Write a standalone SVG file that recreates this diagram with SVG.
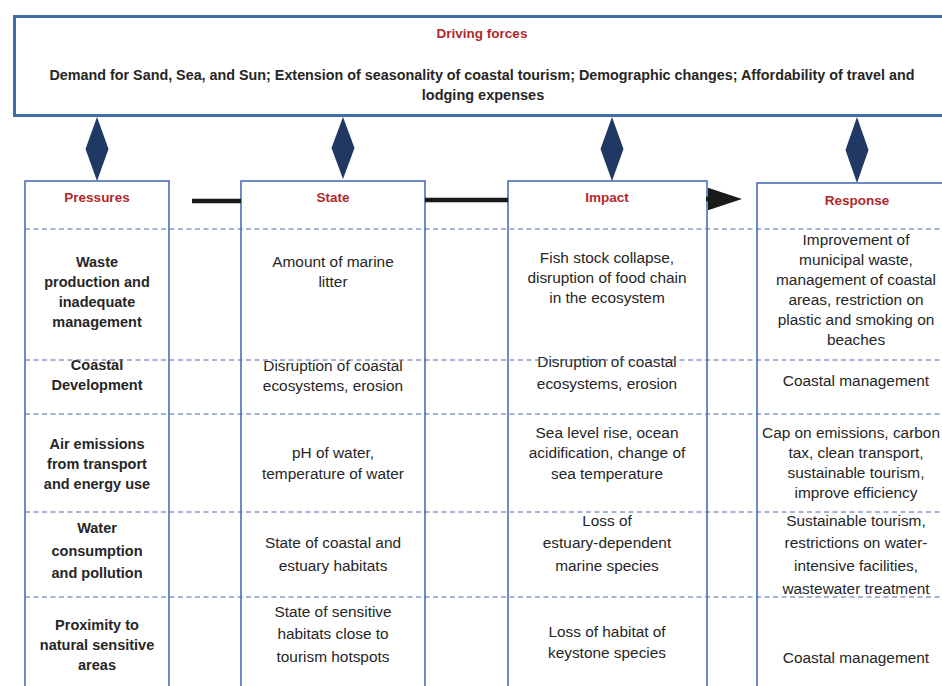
<svg xmlns="http://www.w3.org/2000/svg" width="942" height="686" viewBox="0 0 942 686">
<style>
text{font-family:"Liberation Sans",Arial,sans-serif;text-anchor:middle;fill:#262626;font-size:15.4px}
.h{fill:#b0282c;font-weight:bold;font-size:13.5px}
.b{font-weight:bold;font-size:14.5px}
.col{fill:#fff;stroke:#4a6fb8;stroke-width:1.6}
.dash{stroke:#4d6da3;stroke-width:1.2;stroke-dasharray:5 3.5;fill:none}
.dia{fill:#1f3864}
.con{stroke:#1a1a1a;stroke-width:4.5;fill:none}
</style>
<defs>
<marker id="ah" markerWidth="7.6" markerHeight="5" refX="0" refY="2.5" orient="auto" markerUnits="strokeWidth">
<path d="M0,0 L7.6,2.5 L0,5 Z" fill="#1a1a1a"/>
</marker>
</defs>
<rect width="942" height="686" fill="#fff"/>

<g id="driving-forces">
<rect x="14.5" y="16.5" width="940" height="99" fill="#fff" stroke="#3f6ea6" stroke-width="3"/>
<text class="h" x="482" y="38">Driving forces</text>
<text class="b" x="482" y="80" font-size="13.9" textLength="865" lengthAdjust="spacingAndGlyphs">Demand for Sand, Sea, and Sun; Extension of seasonality of coastal tourism; Demographic changes; Affordability of travel and</text>
<text class="b" x="483" y="100" font-size="13.9">lodging expenses</text>
</g>

<g id="pressures">
<rect class="col" x="25" y="181" width="144" height="520"/>
<text class="h" x="97" y="202">Pressures</text>
<text class="b" x="97" y="267">Waste</text>
<text class="b" x="97" y="287">production and</text>
<text class="b" x="97" y="307">inadequate</text>
<text class="b" x="97" y="327">management</text>
<text class="b" x="97" y="370">Coastal</text>
<text class="b" x="97" y="390">Development</text>
<text class="b" x="97" y="449">Air emissions</text>
<text class="b" x="97" y="469">from transport</text>
<text class="b" x="97" y="489">and energy use</text>
<text class="b" x="97" y="533">Water</text>
<text class="b" x="97" y="556">consumption</text>
<text class="b" x="97" y="578">and pollution</text>
<text class="b" x="97" y="630">Proximity to</text>
<text class="b" x="97" y="650">natural sensitive</text>
<text class="b" x="97" y="670">areas</text>
</g>

<g id="state">
<rect class="col" x="241" y="181" width="184" height="520"/>
<text class="h" x="333" y="202">State</text>
<text x="333" y="267">Amount of marine</text>
<text x="333" y="287">litter</text>
<text x="333" y="371">Disruption of coastal</text>
<text x="333" y="391">ecosystems, erosion</text>
<text x="333" y="458">pH of water,</text>
<text x="333" y="479">temperature of water</text>
<text x="333" y="548">State of coastal and</text>
<text x="333" y="571">estuary habitats</text>
<text x="333" y="617">State of sensitive</text>
<text x="333" y="639">habitats close to</text>
<text x="333" y="662">tourism hotspots</text>
</g>

<g id="impact">
<rect class="col" x="508" y="181" width="199" height="520"/>
<text class="h" x="607" y="202">Impact</text>
<text x="607" y="263">Fish stock collapse,</text>
<text x="607" y="283">disruption of food chain</text>
<text x="607" y="303">in the ecosystem</text>
<text x="607" y="367">Disruption of coastal</text>
<text x="607" y="389">ecosystems, erosion</text>
<text x="607" y="438">Sea level rise, ocean</text>
<text x="607" y="458">acidification, change of</text>
<text x="607" y="479">sea temperature</text>
<text x="607" y="526">Loss of</text>
<text x="607" y="548">estuary-dependent</text>
<text x="607" y="571">marine species</text>
<text x="607" y="637">Loss of habitat of</text>
<text x="607" y="658">keystone species</text>
</g>

<g id="response">
<rect class="col" x="757" y="183" width="200" height="520"/>
<text class="h" x="857" y="205">Response</text>
<text x="856" y="245">Improvement of</text>
<text x="856" y="265">municipal waste,</text>
<text x="856" y="285">management of coastal</text>
<text x="856" y="305">areas, restriction on</text>
<text x="856" y="325">plastic and smoking on</text>
<text x="856" y="345">beaches</text>
<text x="856" y="386">Coastal management</text>
<text x="851" y="438" font-size="14.3">Cap on emissions, carbon</text>
<text x="856" y="458">tax, clean transport,</text>
<text x="856" y="478">sustainable tourism,</text>
<text x="856" y="498">improve efficiency</text>
<text x="856" y="526">Sustainable tourism,</text>
<text x="856" y="548">restrictions on water-</text>
<text x="856" y="571">intensive facilities,</text>
<text x="856" y="594">wastewater treatment</text>
<text x="856" y="663">Coastal management</text>
</g>

<g id="row-dividers">
<path class="dash" d="M25,229 H942 M25,360 H942 M25,414 H942 M25,512 H942 M25,597 H942"/>
</g>

<g id="connectors">
<polygon class="dia" points="97,117 108.5,149 97,181 85.5,149"/>
<polygon class="dia" points="343,117 354.5,148 343,179 331.5,148"/>
<polygon class="dia" points="612,117 623.5,149 612,181 600.5,149"/>
<polygon class="dia" points="857,117 868.5,150 857,183 845.5,150"/>
<line class="con" x1="192" y1="201" x2="241" y2="201"/>
<line class="con" x1="425" y1="200" x2="508" y2="200"/>
<line class="con" x1="706" y1="199" x2="708" y2="199" marker-end="url(#ah)"/>
</g>
</svg>
